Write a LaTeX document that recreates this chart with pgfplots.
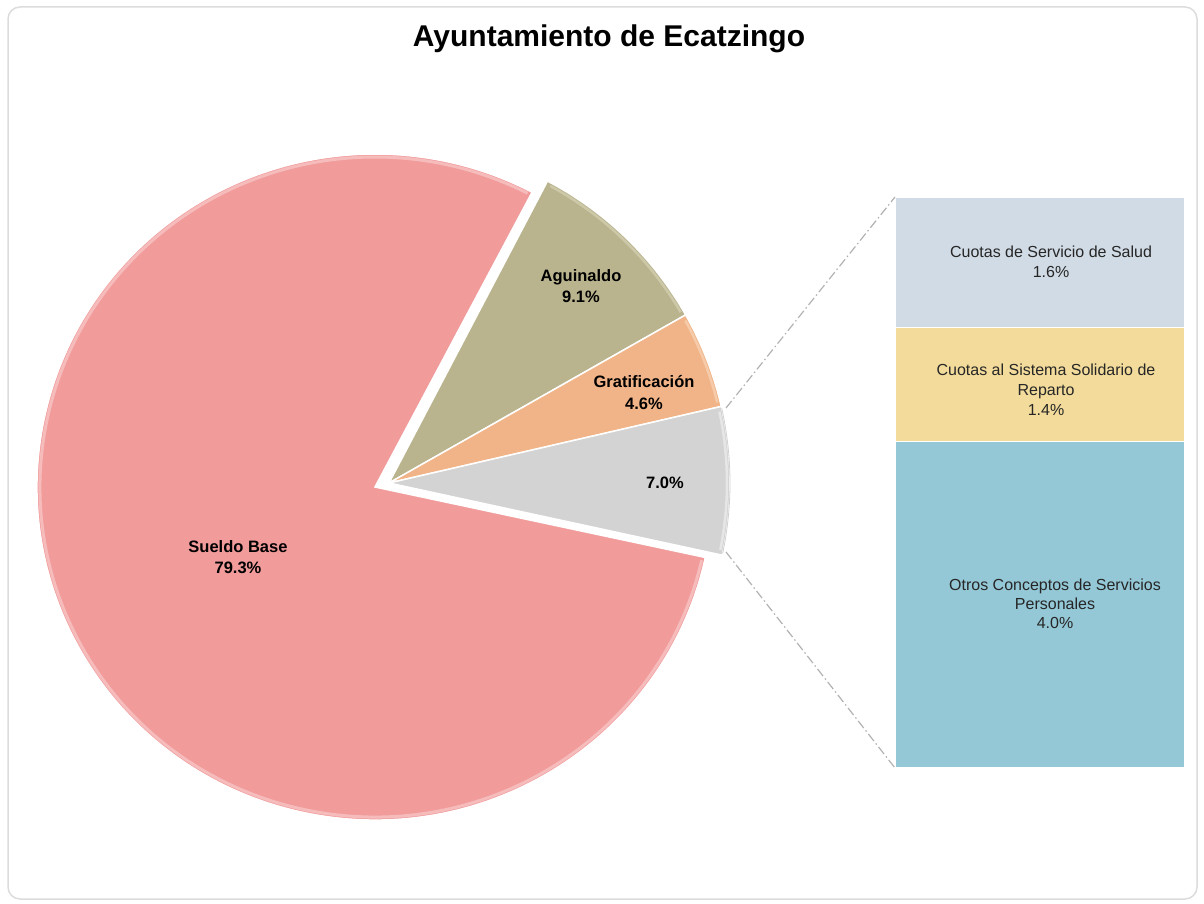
\documentclass[border=0pt]{standalone}
\usepackage{pgfplots}
\pgfplotsset{compat=1.18}
\usepackage{pgfplotstable}
\usepackage{fontspec}
\setmainfont{Liberation Sans}

\definecolor{csueldo}{HTML}{F19B9B}
\definecolor{csueldoL}{HTML}{F6BBBB}
\definecolor{cagui}{HTML}{B9B48E}
\definecolor{caguiL}{HTML}{CCC8A8}
\definecolor{cgrat}{HTML}{F1B488}
\definecolor{cgratL}{HTML}{F6CBA9}
\definecolor{cotro}{HTML}{D3D3D3}
\definecolor{cotroL}{HTML}{E6E6E6}
\definecolor{csalud}{HTML}{D1DBE5}
\definecolor{crep}{HTML}{F3DC9B}
\definecolor{cotros}{HTML}{94C8D6}
\definecolor{cframe}{HTML}{DCDCDC}

\pgfplotstableread{
name value
Sueldo 79.3
Aguinaldo 9.1
Gratificacion 4.6
Otros 7.0
}\pietable

\pgfplotstableread{
x salud reparto otros
0 1.6 1.4 4.0
}\bartable

\begin{document}
\begin{tikzpicture}
\pgfplotstablegetelem{0}{value}\of\pietable \let\vS\pgfplotsretval
\pgfplotstablegetelem{1}{value}\of\pietable \let\vA\pgfplotsretval
\pgfplotstablegetelem{2}{value}\of\pietable \let\vG\pgfplotsretval
\pgfplotstablegetelem{3}{value}\of\pietable \let\vO\pgfplotsretval
\pgfmathsetmacro\aA{62.3}
\pgfmathsetmacro\aB{\aA-3.6*\vA}
\pgfmathsetmacro\aC{\aB-3.6*\vG}
\pgfmathsetmacro\aD{\aC-3.6*\vO}
\pgfmathsetmacro\aE{\aD-3.6*\vS}
\pgfmathsetmacro\aDi{\aD-0.6}
\pgfmathsetmacro\aEi{\aE+0.6}
\def\R{341pt}
\def\RL{338pt}

% stacked bar (pie-of-bar)
\begin{axis}[at={(895pt,136pt)},anchor=south west,scale only axis,
  width=290pt,height=571pt,xmin=-0.5,xmax=0.5,ymin=0,ymax=7,
  hide axis,ybar stacked,bar width=290pt,clip=false]
\addplot[fill=cotros,draw=white,line width=1.5pt] table[x=x,y=otros]{\bartable};
\addplot[fill=crep,draw=white,line width=1.5pt] table[x=x,y=reparto]{\bartable};
\addplot[fill=csalud,draw=white,line width=1.5pt] table[x=x,y=salud]{\bartable};
\end{axis}

\begin{axis}[at={(0pt,0pt)},anchor=south west,scale only axis,
  width=1204pt,height=904pt,xmin=0,xmax=1204,ymin=0,ymax=904,
  y dir=reverse,hide axis,clip=false]
\path (axis cs:0,0) rectangle (axis cs:1204,904);
\draw[cframe,line width=1.5pt,rounded corners=12pt] (axis cs:8,7) rectangle (axis cs:1197,899);

% Sueldo Base
\fill[csueldo,draw=white,line width=1.5pt] (axis cs:375,487) -- ++(\aD:338pt and 333pt)
  arc[start angle=\aD,end angle=\aE,x radius=338pt,y radius=333pt] -- cycle;
\draw[csueldoL,line width=3pt] (axis cs:375,487) ++(\aDi:335pt and 330pt)
  arc[start angle=\aDi,end angle=\aEi,x radius=335pt,y radius=330pt];
% Aguinaldo
\fill[cagui,draw=white,line width=1.5pt] (axis cs:389,483) -- ++(canvas polar cs:angle=\aA,radius=\R)
  arc[start angle=\aA,end angle=\aB,radius=\R] -- cycle;
\draw[caguiL,line width=2.5pt] (axis cs:389,483) ++(canvas polar cs:angle=\aA-0.8,radius=\RL)
  arc[start angle=\aA-0.8,end angle=\aB+0.8,radius=\RL];
% Gratificacion
\fill[cgrat,draw=white,line width=1.5pt] (axis cs:389,483) -- ++(canvas polar cs:angle=\aB,radius=\R)
  arc[start angle=\aB,end angle=\aC,radius=\R] -- cycle;
\draw[cgratL,line width=2.5pt] (axis cs:389,483) ++(canvas polar cs:angle=\aB-0.8,radius=\RL)
  arc[start angle=\aB-0.8,end angle=\aC+0.8,radius=\RL];
% Otros (7.0%)
\fill[cotro,draw=white,line width=1.5pt] (axis cs:389,483) -- ++(canvas polar cs:angle=\aC,radius=\R)
  arc[start angle=\aC,end angle=\aD,radius=\R] -- cycle;
\draw[cotroL,line width=2.5pt] (axis cs:389,483) ++(canvas polar cs:angle=\aC-0.8,radius=\RL)
  arc[start angle=\aC-0.8,end angle=\aD+0.8,radius=\RL];
\draw[black!18,line width=0.8pt] (axis cs:389,483) ++(canvas polar cs:angle=\aC-0.3,radius=\R)
  arc[start angle=\aC-0.3,end angle=\aD+0.3,radius=\R];

% connector lines
\draw[black!30,dash pattern=on 9pt off 3pt on 1.5pt off 3pt,line width=1.2pt] (axis cs:726,408) -- (axis cs:895,197);
\draw[black!30,dash pattern=on 9pt off 3pt on 1.5pt off 3pt,line width=1.2pt] (axis cs:726,552) -- (axis cs:895,768);

% title
\node[anchor=base,font=\bfseries\fontsize{30}{36}\selectfont] at (axis cs:609,47) {Ayuntamiento de Ecatzingo};

% pie labels
\tikzset{pl/.style={anchor=base,inner sep=0pt,font=\bfseries\fontsize{16.5}{20}\selectfont}}
\node[pl] at (axis cs:581,281) {Aguinaldo};
\node[pl] at (axis cs:581,302) {9.1\%};
\node[pl] at (axis cs:644,387) {Gratificación};
\node[pl] at (axis cs:644,409) {4.6\%};
\node[pl] at (axis cs:665,488) {7.0\%};
\node[pl] at (axis cs:238,552) {Sueldo Base};
\node[pl] at (axis cs:238,573) {79.3\%};

% bar labels
\tikzset{bl/.style={anchor=base,inner sep=0pt,font=\fontsize{16}{20}\selectfont,text=black!85}}
\node[bl] at (axis cs:1051,257) {Cuotas de Servicio de Salud};
\node[bl] at (axis cs:1051,277) {1.6\%};
\node[bl] at (axis cs:1046,375) {Cuotas al Sistema Solidario de};
\node[bl] at (axis cs:1046,395) {Reparto};
\node[bl] at (axis cs:1046,415) {1.4\%};
\node[bl] at (axis cs:1055,590) {Otros Conceptos de Servicios};
\node[bl] at (axis cs:1055,609) {Personales};
\node[bl] at (axis cs:1055,628) {4.0\%};
\end{axis}
\end{tikzpicture}
\end{document}
